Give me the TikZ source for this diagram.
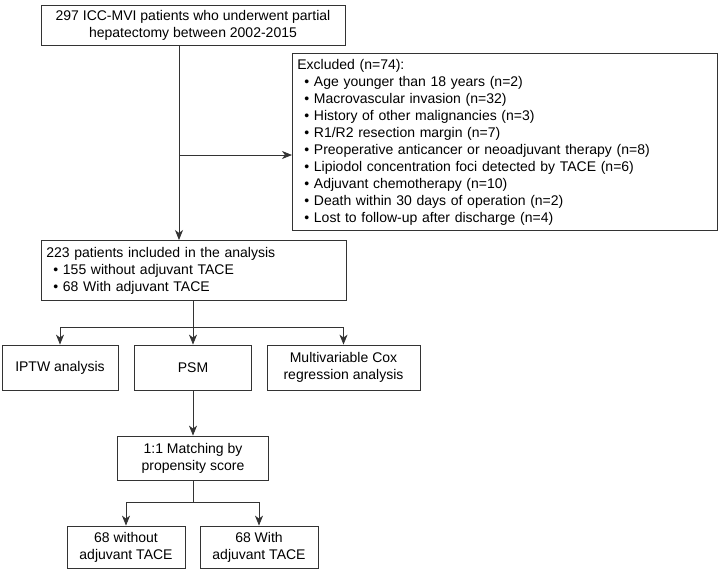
\documentclass[tikz,border=0pt]{standalone}
\usepackage{fontspec}
\setmainfont{Liberation Sans}
\usepackage{tikz}
\usetikzlibrary{calc,arrows.meta}

\newcommand{\itm}{\par\hspace*{7pt}\textbullet\ }

\tikzset{
  flowbox/.style={draw=black!80, line width=0.8pt, inner sep=5pt,
    font=\fontsize{14}{17}\selectfont},
  flowline/.style={draw=black!80, line width=0.8pt},
  flowarrow/.style={flowline, -{Stealth[length=10pt,width=8pt,inset=3pt]}}
}

\begin{document}
\begin{tikzpicture}[x=1pt,y=-1pt]
            \useasboundingbox (0,0) rectangle (721,571);

            \node[flowbox, minimum width=304pt, minimum height=40pt, align=center] (total) at (193,25)
              {297 ICC-MVI patients who underwent partial\\hepatectomy between 2002-2015};
            \node[flowbox, anchor=north west, text width=415pt, minimum height=177pt, align=left] (excl) at (292,53)
              {Excluded (n=74):\itm Age younger than 18 years (n=2)\itm Macrovascular invasion (n=32)%
               \itm History of other malignancies (n=3)\itm R1/R2 resection margin (n=7)%
               \itm Preoperative anticancer or neoadjuvant therapy (n=8)%
               \itm Lipiodol concentration foci detected by TACE (n=6)%
               \itm Adjuvant chemotherapy (n=10)\itm Death within 30 days of operation (n=2)%
               \itm Lost to follow-up after discharge (n=4)};
            \node[flowbox, anchor=north west, text width=295pt, minimum height=60pt, align=left] (incl) at (41,240)
              {223 patients included in the analysis\itm 155 without adjuvant TACE\itm 68 With adjuvant TACE};

            \node[flowbox, minimum width=116pt, minimum height=45pt, align=center] (iptw) at (60,367.5) {IPTW analysis};
            \node[flowbox, minimum width=117pt, minimum height=45pt, align=center] (psm) at (193,367.5) {PSM};
            \node[flowbox, minimum width=153pt, minimum height=45pt, align=center] (cox) at (343.5,367.5)
              {Multivariable Cox\\regression analysis};

            \node[flowbox, minimum width=151pt, minimum height=44pt, align=center] (match) at (193,458)
              {1:1 Matching by\\propensity score};
            \node[flowbox, minimum width=118pt, minimum height=42pt, align=center] (notace) at (126,547)
              {68 without\\adjuvant TACE};
            \node[flowbox, minimum width=118pt, minimum height=42pt, align=center] (withtace) at (259,547)
              {68 With\\adjuvant TACE};

            % junctions
            \coordinate (ex) at (179,155);
            \coordinate (split1) at (193,327);
            \coordinate (split2) at (193,502);

            \draw[flowarrow] (total.south -| ex) -- (incl.north -| ex);
            \draw[flowarrow] (ex) -- (excl.west |- ex);

            \draw[flowline] (incl.south -| split1) -- (split1);
            \draw[flowarrow] (split1) -| (iptw.north);
            \draw[flowarrow] (split1) -- (psm.north);
            \draw[flowarrow] (split1) -| (cox.north);

            \draw[flowarrow] (psm) -- (match);
            \draw[flowline] (match.south) -- (split2);
            \draw[flowarrow] (split2) -| (notace.north);
            \draw[flowarrow] (split2) -| (withtace.north);
        \end{tikzpicture}
\end{document}
